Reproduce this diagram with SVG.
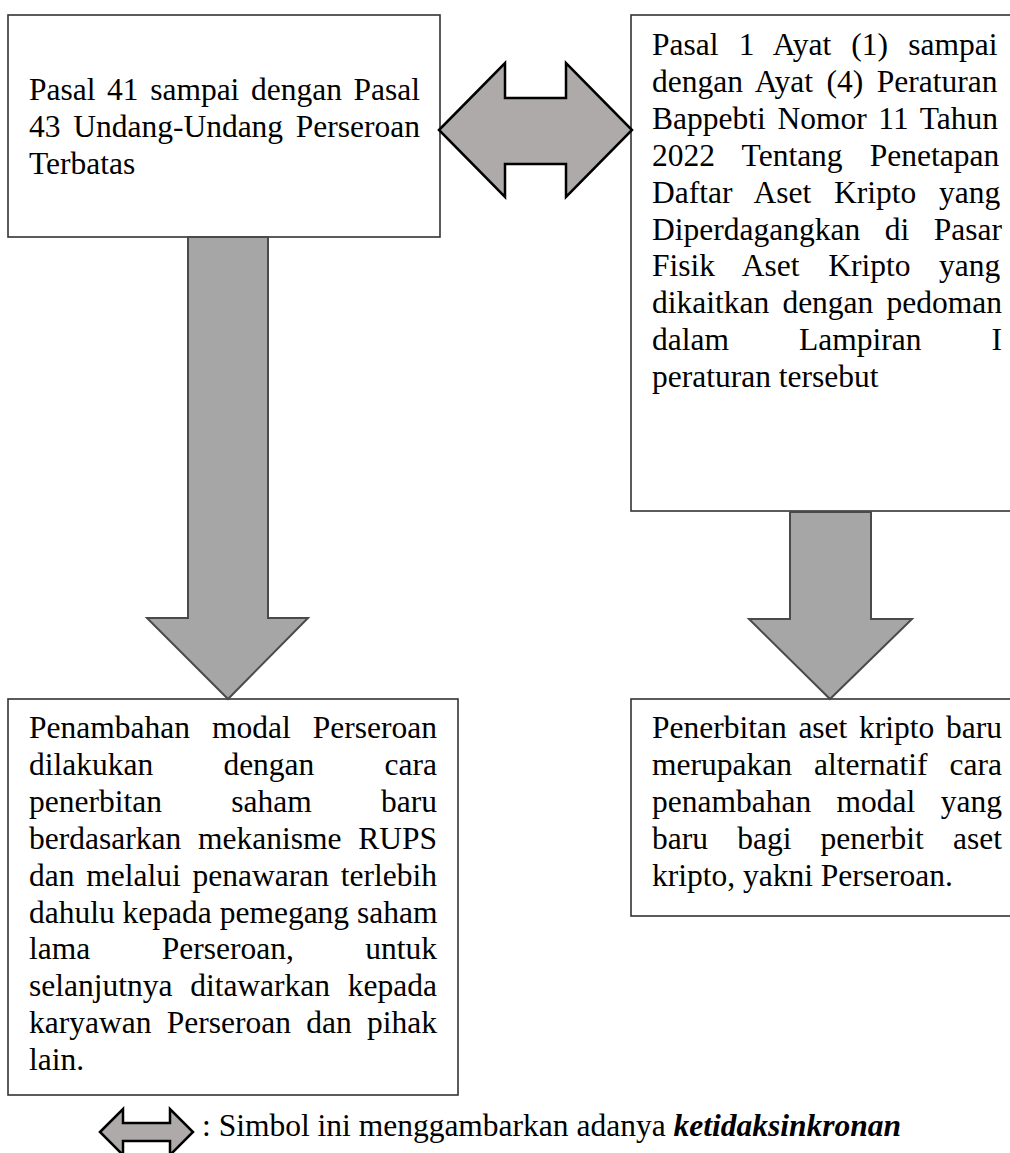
<svg xmlns="http://www.w3.org/2000/svg" width="1010" height="1153" viewBox="0 0 1010 1153">
  <style>
    .box { fill: #ffffff; stroke: #333333; stroke-width: 1.6; }
    .t { font-family: "Liberation Serif", "Times New Roman", serif; font-size: 31.5px; fill: #000000; }
    .bi { font-weight: bold; font-style: italic; }
    .down { fill: #a6a6a6; stroke: #4a4a4a; stroke-width: 2; stroke-linejoin: miter; }
    .both { fill: #aeaaaa; stroke: #000000; stroke-width: 2.5; stroke-linejoin: miter; }
  </style>

  <!-- Pasal 41-43 UUPT -->
  <g id="node-uupt">
    <rect class="box" x="8" y="15" width="432" height="222"/>
    <text class="t" x="29" y="100" word-spacing="3.7">Pasal 41 sampai dengan Pasal</text>
    <text class="t" x="29" y="137" word-spacing="4.8">43 Undang-Undang Perseroan</text>
    <text class="t" x="29" y="174">Terbatas</text>
  </g>

  <!-- Peraturan Bappebti No. 11/2022 -->
  <g id="node-bappebti">
    <rect class="box" x="631" y="15" width="420" height="496"/>
    <text class="t" x="652" y="55" word-spacing="12.3">Pasal 1 Ayat (1) sampai</text>
    <text class="t" x="652" y="91.9" word-spacing="5.6">dengan Ayat (4) Peraturan</text>
    <text class="t" x="652" y="128.8" word-spacing="3.8">Bappebti Nomor 11 Tahun</text>
    <text class="t" x="652" y="165.7" word-spacing="19.3">2022 Tentang Penetapan</text>
    <text class="t" x="652" y="202.6" word-spacing="14.9">Daftar Aset Kripto yang</text>
    <text class="t" x="652" y="239.5" word-spacing="16.7">Diperdagangkan di Pasar</text>
    <text class="t" x="652" y="276.4" word-spacing="20.7">Fisik Aset Kripto yang</text>
    <text class="t" x="652" y="313.3" word-spacing="5.3">dikaitkan dengan pedoman</text>
    <text class="t" x="652" y="350.2" word-spacing="62.2">dalam Lampiran I</text>
    <text class="t" x="652" y="387.1">peraturan tersebut</text>
  </g>

  <!-- Penambahan modal Perseroan -->
  <g id="node-modal">
    <rect class="box" x="8" y="699" width="450" height="396"/>
    <text class="t" x="29" y="738" word-spacing="14.2">Penambahan modal Perseroan</text>
    <text class="t" x="29" y="774.9" word-spacing="62.3">dilakukan dengan cara</text>
    <text class="t" x="29" y="811.8" word-spacing="61.4">penerbitan saham baru</text>
    <text class="t" x="29" y="848.7" word-spacing="8.9">berdasarkan mekanisme RUPS</text>
    <text class="t" x="29" y="885.6" word-spacing="3.9">dan melalui penawaran terlebih</text>
    <text class="t" x="29" y="922.5" word-spacing="0">dahulu kepada pemegang saham</text>
    <text class="t" x="29" y="959.4" word-spacing="63.6">lama Perseroan, untuk</text>
    <text class="t" x="29" y="996.3" word-spacing="9.8">selanjutnya ditawarkan kepada</text>
    <text class="t" x="29" y="1033.2" word-spacing="7.4">karyawan Perseroan dan pihak</text>
    <text class="t" x="29" y="1070.1">lain.</text>
  </g>

  <!-- Penerbitan aset kripto baru -->
  <g id="node-kripto">
    <rect class="box" x="631" y="699" width="420" height="217"/>
    <text class="t" x="652" y="738" word-spacing="3.8">Penerbitan aset kripto baru</text>
    <text class="t" x="652" y="775" word-spacing="14.1">merupakan alternatif cara</text>
    <text class="t" x="652" y="812" word-spacing="17.5">penambahan modal yang</text>
    <text class="t" x="652" y="849" word-spacing="21.3">baru bagi penerbit aset</text>
    <text class="t" x="652" y="886">kripto, yakni Perseroan.</text>
  </g>

  <!-- Block arrows between the boxes -->
  <g id="connectors">
    <polygon class="both" points="439,130 505,63 505,98 566,98 566,63 632,130 566,197 566,164 505,164 505,197"/>
    <polygon class="down" points="188,237 268,237 268,618 308,618 228,699 147,618 188,618"/>
    <polygon class="down" points="790,512 871,512 871,619 912,619 830,699 749,619 790,619"/>
  </g>

  <!-- Legend -->
  <g id="legend">
    <polygon class="both" points="100,1132 123,1109 123,1123 170,1123 170,1109 193,1132 170,1155 170,1141 123,1141 123,1155"/>
    <text class="t" x="202" y="1136">: Simbol ini menggambarkan adanya <tspan class="bi">ketidaksinkronan</tspan></text>
  </g>
</svg>
